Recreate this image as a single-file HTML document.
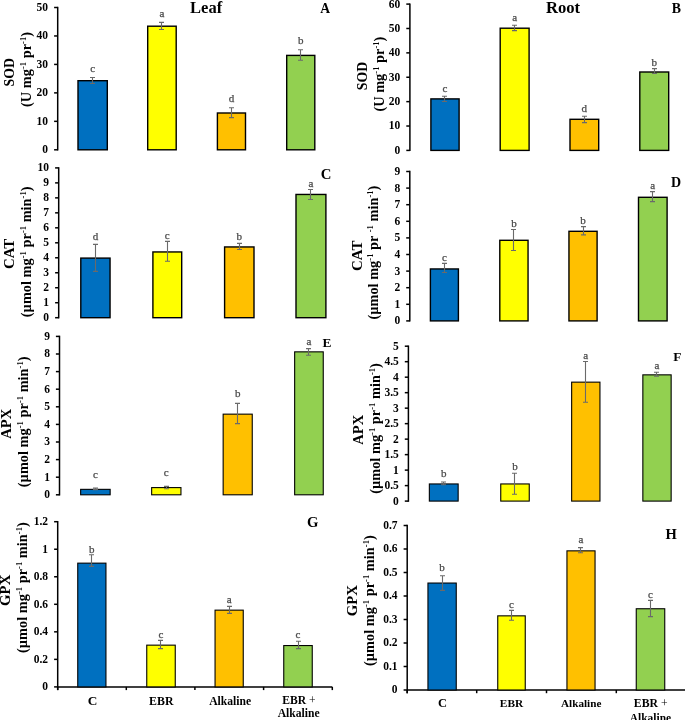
<!DOCTYPE html>
<html><head><meta charset="utf-8"><title>Figure</title><style>
html,body{margin:0;padding:0;background:#fff;}
body{width:685px;height:720px;overflow:hidden;}
svg{display:block;will-change:transform;}
text{font-family:"Liberation Serif",serif;}
.ax{stroke:#000;stroke-width:1.5;fill:none;}
.bar{stroke:#000;}
.err{stroke:#6a6a6a;stroke-width:1.1;fill:none;}
.tick{font-size:11.5px;font-weight:bold;text-anchor:end;fill:#000;}
.let{font-size:11px;text-anchor:middle;fill:#4a4a4a;stroke:#4a4a4a;stroke-width:0.25px;}
.b{font-weight:bold;}
.m{text-anchor:middle;}
.sup{font-size:8.6px;}
</style></head><body><svg width="685" height="720" viewBox="0 0 685 720">
<rect width="100%" height="100%" fill="#fff"/>
<g>
<line x1="57.70" y1="6.80" x2="57.70" y2="150.50" class="ax"/>
<line x1="54.10" y1="149.80" x2="57.70" y2="149.80" class="ax"/>
<text x="48.10" y="153.20" class="tick">0</text>
<line x1="54.10" y1="121.34" x2="57.70" y2="121.34" class="ax"/>
<text x="48.10" y="124.74" class="tick">10</text>
<line x1="54.10" y1="92.88" x2="57.70" y2="92.88" class="ax"/>
<text x="48.10" y="96.28" class="tick">20</text>
<line x1="54.10" y1="64.42" x2="57.70" y2="64.42" class="ax"/>
<text x="48.10" y="67.82" class="tick">30</text>
<line x1="54.10" y1="35.96" x2="57.70" y2="35.96" class="ax"/>
<text x="48.10" y="39.36" class="tick">40</text>
<line x1="54.10" y1="7.50" x2="57.70" y2="7.50" class="ax"/>
<text x="48.10" y="10.90" class="tick">50</text>
<rect x="78.00" y="80.70" width="29.30" height="69.10" fill="#0070C0" class="bar" style="stroke-width:1.4"/>
<path d="M92.50 77.50V83.50M90.00 77.50H95.00M90.00 83.50H95.00" class="err"/>
<text x="92.65" y="72.00" class="let">c</text>
<rect x="147.70" y="26.20" width="28.50" height="123.60" fill="#FFFF00" class="bar" style="stroke-width:1.4"/>
<path d="M161.50 22.40V29.50M159.00 22.40H164.00M159.00 29.50H164.00" class="err"/>
<text x="161.95" y="17.00" class="let">a</text>
<rect x="217.40" y="113.00" width="28.10" height="36.80" fill="#FFC000" class="bar" style="stroke-width:1.4"/>
<path d="M231.50 107.70V117.60M229.00 107.70H234.00M229.00 117.60H234.00" class="err"/>
<text x="231.45" y="102.40" class="let">d</text>
<rect x="286.70" y="55.40" width="28.10" height="94.40" fill="#92D050" class="bar" style="stroke-width:1.4"/>
<path d="M300.50 49.70V60.30M298.00 49.70H303.00M298.00 60.30H303.00" class="err"/>
<text x="300.75" y="44.00" class="let">b</text>
</g>
<g>
<line x1="409.90" y1="3.40" x2="409.90" y2="151.10" class="ax"/>
<line x1="406.30" y1="150.40" x2="409.90" y2="150.40" class="ax"/>
<text x="400.30" y="153.80" class="tick">0</text>
<line x1="406.30" y1="126.02" x2="409.90" y2="126.02" class="ax"/>
<text x="400.30" y="129.42" class="tick">10</text>
<line x1="406.30" y1="101.63" x2="409.90" y2="101.63" class="ax"/>
<text x="400.30" y="105.03" class="tick">20</text>
<line x1="406.30" y1="77.25" x2="409.90" y2="77.25" class="ax"/>
<text x="400.30" y="80.65" class="tick">30</text>
<line x1="406.30" y1="52.87" x2="409.90" y2="52.87" class="ax"/>
<text x="400.30" y="56.27" class="tick">40</text>
<line x1="406.30" y1="28.48" x2="409.90" y2="28.48" class="ax"/>
<text x="400.30" y="31.88" class="tick">50</text>
<line x1="406.30" y1="4.10" x2="409.90" y2="4.10" class="ax"/>
<text x="400.30" y="7.50" class="tick">60</text>
<rect x="430.90" y="98.90" width="28.20" height="51.50" fill="#0070C0" class="bar" style="stroke-width:1.4"/>
<path d="M444.50 96.20V101.50M442.00 96.20H447.00M442.00 101.50H447.00" class="err"/>
<text x="445.00" y="91.80" class="let">c</text>
<rect x="500.20" y="28.20" width="28.90" height="122.20" fill="#FFFF00" class="bar" style="stroke-width:1.4"/>
<path d="M514.50 25.30V30.60M512.00 25.30H517.00M512.00 30.60H517.00" class="err"/>
<text x="514.65" y="20.90" class="let">a</text>
<rect x="570.00" y="119.30" width="28.70" height="31.10" fill="#FFC000" class="bar" style="stroke-width:1.4"/>
<path d="M584.50 116.20V122.60M582.00 116.20H587.00M582.00 122.60H587.00" class="err"/>
<text x="584.35" y="112.00" class="let">d</text>
<rect x="639.80" y="72.00" width="28.90" height="78.40" fill="#92D050" class="bar" style="stroke-width:1.4"/>
<path d="M654.50 68.60V73.50M652.00 68.60H657.00M652.00 73.50H657.00" class="err"/>
<text x="654.25" y="65.50" class="let">b</text>
</g>
<g>
<line x1="58.70" y1="167.20" x2="58.70" y2="318.40" class="ax"/>
<line x1="55.10" y1="317.70" x2="58.70" y2="317.70" class="ax"/>
<text x="49.10" y="321.10" class="tick">0</text>
<line x1="55.10" y1="302.72" x2="58.70" y2="302.72" class="ax"/>
<text x="49.10" y="306.12" class="tick">1</text>
<line x1="55.10" y1="287.74" x2="58.70" y2="287.74" class="ax"/>
<text x="49.10" y="291.14" class="tick">2</text>
<line x1="55.10" y1="272.76" x2="58.70" y2="272.76" class="ax"/>
<text x="49.10" y="276.16" class="tick">3</text>
<line x1="55.10" y1="257.78" x2="58.70" y2="257.78" class="ax"/>
<text x="49.10" y="261.18" class="tick">4</text>
<line x1="55.10" y1="242.80" x2="58.70" y2="242.80" class="ax"/>
<text x="49.10" y="246.20" class="tick">5</text>
<line x1="55.10" y1="227.82" x2="58.70" y2="227.82" class="ax"/>
<text x="49.10" y="231.22" class="tick">6</text>
<line x1="55.10" y1="212.84" x2="58.70" y2="212.84" class="ax"/>
<text x="49.10" y="216.24" class="tick">7</text>
<line x1="55.10" y1="197.86" x2="58.70" y2="197.86" class="ax"/>
<text x="49.10" y="201.26" class="tick">8</text>
<line x1="55.10" y1="182.88" x2="58.70" y2="182.88" class="ax"/>
<text x="49.10" y="186.28" class="tick">9</text>
<line x1="55.10" y1="167.90" x2="58.70" y2="167.90" class="ax"/>
<text x="49.10" y="171.30" class="tick">10</text>
<rect x="80.80" y="258.10" width="29.25" height="59.60" fill="#0070C0" class="bar" style="stroke-width:1.4"/>
<path d="M95.50 244.40V271.40M93.00 244.40H98.00M93.00 271.40H98.00" class="err"/>
<text x="95.42" y="240.00" class="let">d</text>
<rect x="152.90" y="251.95" width="28.80" height="65.75" fill="#FFFF00" class="bar" style="stroke-width:1.4"/>
<path d="M167.50 241.40V261.25M165.00 241.40H170.00M165.00 261.25H170.00" class="err"/>
<text x="167.30" y="238.60" class="let">c</text>
<rect x="224.60" y="246.95" width="29.40" height="70.75" fill="#FFC000" class="bar" style="stroke-width:1.4"/>
<path d="M239.50 243.40V249.50M237.00 243.40H242.00M237.00 249.50H242.00" class="err"/>
<text x="239.30" y="239.70" class="let">b</text>
<rect x="296.00" y="194.45" width="29.90" height="123.25" fill="#92D050" class="bar" style="stroke-width:1.4"/>
<path d="M310.50 189.50V199.50M308.00 189.50H313.00M308.00 199.50H313.00" class="err"/>
<text x="310.95" y="187.20" class="let">a</text>
</g>
<g>
<line x1="409.80" y1="170.80" x2="409.80" y2="321.60" class="ax"/>
<line x1="406.20" y1="320.90" x2="409.80" y2="320.90" class="ax"/>
<text x="400.20" y="324.30" class="tick">0</text>
<line x1="406.20" y1="304.30" x2="409.80" y2="304.30" class="ax"/>
<text x="400.20" y="307.70" class="tick">1</text>
<line x1="406.20" y1="287.70" x2="409.80" y2="287.70" class="ax"/>
<text x="400.20" y="291.10" class="tick">2</text>
<line x1="406.20" y1="271.10" x2="409.80" y2="271.10" class="ax"/>
<text x="400.20" y="274.50" class="tick">3</text>
<line x1="406.20" y1="254.50" x2="409.80" y2="254.50" class="ax"/>
<text x="400.20" y="257.90" class="tick">4</text>
<line x1="406.20" y1="237.90" x2="409.80" y2="237.90" class="ax"/>
<text x="400.20" y="241.30" class="tick">5</text>
<line x1="406.20" y1="221.30" x2="409.80" y2="221.30" class="ax"/>
<text x="400.20" y="224.70" class="tick">6</text>
<line x1="406.20" y1="204.70" x2="409.80" y2="204.70" class="ax"/>
<text x="400.20" y="208.10" class="tick">7</text>
<line x1="406.20" y1="188.10" x2="409.80" y2="188.10" class="ax"/>
<text x="400.20" y="191.50" class="tick">8</text>
<line x1="406.20" y1="171.50" x2="409.80" y2="171.50" class="ax"/>
<text x="400.20" y="174.90" class="tick">9</text>
<rect x="430.40" y="268.95" width="28.00" height="51.95" fill="#0070C0" class="bar" style="stroke-width:1.4"/>
<path d="M444.50 263.40V272.50M442.00 263.40H447.00M442.00 272.50H447.00" class="err"/>
<text x="444.40" y="260.60" class="let">c</text>
<rect x="499.80" y="240.30" width="28.25" height="80.60" fill="#FFFF00" class="bar" style="stroke-width:1.4"/>
<path d="M513.50 229.50V250.50M511.00 229.50H516.00M511.00 250.50H516.00" class="err"/>
<text x="513.92" y="226.60" class="let">b</text>
<rect x="568.95" y="231.30" width="28.15" height="89.60" fill="#FFC000" class="bar" style="stroke-width:1.4"/>
<path d="M583.50 226.60V234.90M581.00 226.60H586.00M581.00 234.90H586.00" class="err"/>
<text x="583.02" y="223.60" class="let">b</text>
<rect x="638.50" y="197.30" width="28.60" height="123.60" fill="#92D050" class="bar" style="stroke-width:1.4"/>
<path d="M652.50 191.60V201.60M650.00 191.60H655.00M650.00 201.60H655.00" class="err"/>
<text x="652.80" y="188.75" class="let">a</text>
</g>
<g>
<line x1="59.50" y1="335.70" x2="59.50" y2="495.50" class="ax"/>
<line x1="55.90" y1="494.80" x2="59.50" y2="494.80" class="ax"/>
<text x="49.90" y="498.20" class="tick">0</text>
<line x1="55.90" y1="477.20" x2="59.50" y2="477.20" class="ax"/>
<text x="49.90" y="480.60" class="tick">1</text>
<line x1="55.90" y1="459.60" x2="59.50" y2="459.60" class="ax"/>
<text x="49.90" y="463.00" class="tick">2</text>
<line x1="55.90" y1="442.00" x2="59.50" y2="442.00" class="ax"/>
<text x="49.90" y="445.40" class="tick">3</text>
<line x1="55.90" y1="424.40" x2="59.50" y2="424.40" class="ax"/>
<text x="49.90" y="427.80" class="tick">4</text>
<line x1="55.90" y1="406.80" x2="59.50" y2="406.80" class="ax"/>
<text x="49.90" y="410.20" class="tick">5</text>
<line x1="55.90" y1="389.20" x2="59.50" y2="389.20" class="ax"/>
<text x="49.90" y="392.60" class="tick">6</text>
<line x1="55.90" y1="371.60" x2="59.50" y2="371.60" class="ax"/>
<text x="49.90" y="375.00" class="tick">7</text>
<line x1="55.90" y1="354.00" x2="59.50" y2="354.00" class="ax"/>
<text x="49.90" y="357.40" class="tick">8</text>
<line x1="55.90" y1="336.40" x2="59.50" y2="336.40" class="ax"/>
<text x="49.90" y="339.80" class="tick">9</text>
<rect x="80.65" y="489.35" width="29.50" height="5.45" fill="#0070C0" class="bar" style="stroke-width:1.1"/>
<path d="M95.50 488.10V489.60M93.00 488.10H98.00M93.00 489.60H98.00" class="err"/>
<text x="95.40" y="477.90" class="let">c</text>
<rect x="151.65" y="487.60" width="29.30" height="7.20" fill="#FFFF00" class="bar" style="stroke-width:1.1"/>
<path d="M166.50 486.40V488.70M164.00 486.40H169.00M164.00 488.70H169.00" class="err"/>
<text x="166.30" y="475.80" class="let">c</text>
<rect x="223.15" y="414.15" width="29.10" height="80.65" fill="#FFC000" class="bar" style="stroke-width:1.1"/>
<path d="M237.50 403.40V423.60M235.00 403.40H240.00M235.00 423.60H240.00" class="err"/>
<text x="237.70" y="396.80" class="let">b</text>
<rect x="294.65" y="351.85" width="28.60" height="142.95" fill="#92D050" class="bar" style="stroke-width:1.1"/>
<path d="M308.50 348.60V355.20M306.00 348.60H311.00M306.00 355.20H311.00" class="err"/>
<text x="308.95" y="345.00" class="let">a</text>
</g>
<g>
<line x1="408.40" y1="345.50" x2="408.40" y2="501.80" class="ax"/>
<line x1="404.80" y1="501.10" x2="408.40" y2="501.10" class="ax"/>
<text x="398.80" y="504.50" class="tick">0</text>
<line x1="404.80" y1="485.61" x2="408.40" y2="485.61" class="ax"/>
<text x="398.80" y="489.01" class="tick">0.5</text>
<line x1="404.80" y1="470.12" x2="408.40" y2="470.12" class="ax"/>
<text x="398.80" y="473.52" class="tick">1</text>
<line x1="404.80" y1="454.63" x2="408.40" y2="454.63" class="ax"/>
<text x="398.80" y="458.03" class="tick">1.5</text>
<line x1="404.80" y1="439.14" x2="408.40" y2="439.14" class="ax"/>
<text x="398.80" y="442.54" class="tick">2</text>
<line x1="404.80" y1="423.65" x2="408.40" y2="423.65" class="ax"/>
<text x="398.80" y="427.05" class="tick">2.5</text>
<line x1="404.80" y1="408.16" x2="408.40" y2="408.16" class="ax"/>
<text x="398.80" y="411.56" class="tick">3</text>
<line x1="404.80" y1="392.67" x2="408.40" y2="392.67" class="ax"/>
<text x="398.80" y="396.07" class="tick">3.5</text>
<line x1="404.80" y1="377.18" x2="408.40" y2="377.18" class="ax"/>
<text x="398.80" y="380.58" class="tick">4</text>
<line x1="404.80" y1="361.69" x2="408.40" y2="361.69" class="ax"/>
<text x="398.80" y="365.09" class="tick">4.5</text>
<line x1="404.80" y1="346.20" x2="408.40" y2="346.20" class="ax"/>
<text x="398.80" y="349.60" class="tick">5</text>
<rect x="429.35" y="483.95" width="28.80" height="17.15" fill="#0070C0" class="bar" style="stroke-width:1.1"/>
<path d="M443.50 482.00V484.80M441.00 482.00H446.00M441.00 484.80H446.00" class="err"/>
<text x="443.75" y="476.60" class="let">b</text>
<rect x="500.75" y="483.95" width="28.50" height="17.15" fill="#FFFF00" class="bar" style="stroke-width:1.1"/>
<path d="M514.50 473.30V494.30M512.00 473.30H517.00M512.00 494.30H517.00" class="err"/>
<text x="515.00" y="469.90" class="let">b</text>
<rect x="571.65" y="382.15" width="28.30" height="118.95" fill="#FFC000" class="bar" style="stroke-width:1.1"/>
<path d="M585.50 361.50V402.30M583.00 361.50H588.00M583.00 402.30H588.00" class="err"/>
<text x="585.80" y="359.00" class="let">a</text>
<rect x="642.85" y="374.85" width="28.30" height="126.25" fill="#92D050" class="bar" style="stroke-width:1.1"/>
<path d="M656.50 372.30V376.30M654.00 372.30H659.00M654.00 376.30H659.00" class="err"/>
<text x="657.00" y="368.70" class="let">a</text>
</g>
<g>
<line x1="57.70" y1="521.00" x2="57.70" y2="690.10" class="ax"/>
<line x1="54.10" y1="686.90" x2="57.70" y2="686.90" class="ax"/>
<text x="48.10" y="690.30" class="tick">0</text>
<line x1="54.10" y1="659.37" x2="57.70" y2="659.37" class="ax"/>
<text x="48.10" y="662.77" class="tick">0.2</text>
<line x1="54.10" y1="631.83" x2="57.70" y2="631.83" class="ax"/>
<text x="48.10" y="635.23" class="tick">0.4</text>
<line x1="54.10" y1="604.30" x2="57.70" y2="604.30" class="ax"/>
<text x="48.10" y="607.70" class="tick">0.6</text>
<line x1="54.10" y1="576.77" x2="57.70" y2="576.77" class="ax"/>
<text x="48.10" y="580.17" class="tick">0.8</text>
<line x1="54.10" y1="549.23" x2="57.70" y2="549.23" class="ax"/>
<text x="48.10" y="552.63" class="tick">1</text>
<line x1="54.10" y1="521.70" x2="57.70" y2="521.70" class="ax"/>
<text x="48.10" y="525.10" class="tick">1.2</text>
<line x1="57.70" y1="686.90" x2="332.30" y2="686.90" class="ax"/>
<line x1="57.70" y1="686.90" x2="57.70" y2="690.10" class="ax"/>
<line x1="126.30" y1="686.90" x2="126.30" y2="690.10" class="ax"/>
<line x1="194.90" y1="686.90" x2="194.90" y2="690.10" class="ax"/>
<line x1="263.60" y1="686.90" x2="263.60" y2="690.10" class="ax"/>
<line x1="332.30" y1="686.90" x2="332.30" y2="690.10" class="ax"/>
<rect x="77.75" y="563.15" width="28.20" height="123.75" fill="#0070C0" class="bar" style="stroke-width:1.1"/>
<path d="M91.50 554.70V566.40M89.00 554.70H94.00M89.00 566.40H94.00" class="err"/>
<text x="91.85" y="552.60" class="let">b</text>
<rect x="146.75" y="645.15" width="28.50" height="41.75" fill="#FFFF00" class="bar" style="stroke-width:1.1"/>
<path d="M160.50 640.40V648.60M158.00 640.40H163.00M158.00 648.60H163.00" class="err"/>
<text x="161.00" y="637.70" class="let">c</text>
<rect x="215.05" y="610.15" width="28.20" height="76.75" fill="#FFC000" class="bar" style="stroke-width:1.1"/>
<path d="M229.50 606.40V613.40M227.00 606.40H232.00M227.00 613.40H232.00" class="err"/>
<text x="229.15" y="602.70" class="let">a</text>
<rect x="283.75" y="645.55" width="28.50" height="41.35" fill="#92D050" class="bar" style="stroke-width:1.1"/>
<path d="M298.50 641.20V648.60M296.00 641.20H301.00M296.00 648.60H301.00" class="err"/>
<text x="298.00" y="637.70" class="let">c</text>
</g>
<g>
<line x1="407.20" y1="524.80" x2="407.20" y2="693.20" class="ax"/>
<line x1="403.60" y1="690.00" x2="407.20" y2="690.00" class="ax"/>
<text x="397.60" y="693.40" class="tick">0</text>
<line x1="403.60" y1="666.50" x2="407.20" y2="666.50" class="ax"/>
<text x="397.60" y="669.90" class="tick">0.1</text>
<line x1="403.60" y1="643.00" x2="407.20" y2="643.00" class="ax"/>
<text x="397.60" y="646.40" class="tick">0.2</text>
<line x1="403.60" y1="619.50" x2="407.20" y2="619.50" class="ax"/>
<text x="397.60" y="622.90" class="tick">0.3</text>
<line x1="403.60" y1="596.00" x2="407.20" y2="596.00" class="ax"/>
<text x="397.60" y="599.40" class="tick">0.4</text>
<line x1="403.60" y1="572.50" x2="407.20" y2="572.50" class="ax"/>
<text x="397.60" y="575.90" class="tick">0.5</text>
<line x1="403.60" y1="549.00" x2="407.20" y2="549.00" class="ax"/>
<text x="397.60" y="552.40" class="tick">0.6</text>
<line x1="403.60" y1="525.50" x2="407.20" y2="525.50" class="ax"/>
<text x="397.60" y="528.90" class="tick">0.7</text>
<line x1="407.20" y1="690.00" x2="686.00" y2="690.00" class="ax"/>
<line x1="407.20" y1="690.00" x2="407.20" y2="693.20" class="ax"/>
<line x1="476.70" y1="690.00" x2="476.70" y2="693.20" class="ax"/>
<line x1="546.50" y1="690.00" x2="546.50" y2="693.20" class="ax"/>
<line x1="616.30" y1="690.00" x2="616.30" y2="693.20" class="ax"/>
<line x1="686.00" y1="690.00" x2="686.00" y2="693.20" class="ax"/>
<rect x="427.95" y="583.05" width="28.30" height="106.95" fill="#0070C0" class="bar" style="stroke-width:1.1"/>
<path d="M442.50 575.70V590.40M440.00 575.70H445.00M440.00 590.40H445.00" class="err"/>
<text x="442.10" y="570.80" class="let">b</text>
<rect x="497.75" y="615.85" width="27.50" height="74.15" fill="#FFFF00" class="bar" style="stroke-width:1.1"/>
<path d="M511.50 610.40V620.30M509.00 610.40H514.00M509.00 620.30H514.00" class="err"/>
<text x="511.50" y="607.80" class="let">c</text>
<rect x="566.95" y="550.85" width="28.10" height="139.15" fill="#FFC000" class="bar" style="stroke-width:1.1"/>
<path d="M580.50 547.60V552.70M578.00 547.60H583.00M578.00 552.70H583.00" class="err"/>
<text x="581.00" y="542.80" class="let">a</text>
<rect x="636.25" y="608.75" width="28.50" height="81.25" fill="#92D050" class="bar" style="stroke-width:1.1"/>
<path d="M650.50 600.40V616.60M648.00 600.40H653.00M648.00 616.60H653.00" class="err"/>
<text x="650.50" y="598.10" class="let">c</text>
</g>
<text id="A1" transform="translate(14.22 72.30) rotate(-90)" class="b m" style="font-size:13.85px">SOD</text>
<text id="A2" transform="translate(30.60 69.50) rotate(-90)" class="b m" style="font-size:14.37px">(U mg<tspan class="sup" dy="-5">-1</tspan><tspan dy="5"> pr</tspan><tspan class="sup" dy="-5">-1</tspan><tspan dy="5">)</tspan></text>
<text id="B1" transform="translate(367.20 76.00) rotate(-90)" class="b m" style="font-size:13.85px">SOD</text>
<text id="B2" transform="translate(384.00 74.10) rotate(-90)" class="b m" style="font-size:14.37px">(U mg<tspan class="sup" dy="-5">-1</tspan><tspan dy="5"> pr</tspan><tspan class="sup" dy="-5">-1</tspan><tspan dy="5">)</tspan></text>
<text id="C1" transform="translate(13.90 253.88) rotate(-90)" class="b m" style="font-size:14.9px">CAT</text>
<text id="C2" transform="translate(31.20 251.80) rotate(-90)" class="b m" style="font-size:14.37px">(µmol mg<tspan class="sup" dy="-5">-1</tspan><tspan dy="5"> pr</tspan><tspan class="sup" dy="-5">-1</tspan><tspan dy="5"> min</tspan><tspan class="sup" dy="-5">-1</tspan><tspan dy="5">)</tspan></text>
<text id="D1" transform="translate(362.40 255.80) rotate(-90)" class="b m" style="font-size:14.9px">CAT</text>
<text id="D2" transform="translate(378.20 252.60) rotate(-90)" class="b m" style="font-size:14.37px">(µmol mg<tspan class="sup" dy="-5">-1</tspan><tspan dy="5"> pr </tspan><tspan class="sup" dy="-5">-1</tspan><tspan dy="5"> min</tspan><tspan class="sup" dy="-5">-1</tspan><tspan dy="5">)</tspan></text>
<text id="E1" transform="translate(11.40 423.80) rotate(-90)" class="b m" style="font-size:14.6px">APX</text>
<text id="E2" transform="translate(27.80 421.80) rotate(-90)" class="b m" style="font-size:14.37px">(µmol mg<tspan class="sup" dy="-5">-1</tspan><tspan dy="5"> pr</tspan><tspan class="sup" dy="-5">-1</tspan><tspan dy="5"> min</tspan><tspan class="sup" dy="-5">-1</tspan><tspan dy="5">)</tspan></text>
<text id="F1" transform="translate(362.80 429.80) rotate(-90)" class="b m" style="font-size:14.6px">APX</text>
<text id="F2" transform="translate(380.40 428.50) rotate(-90)" class="b m" style="font-size:14.37px">(µmol mg<tspan class="sup" dy="-5">-1</tspan><tspan dy="5"> pr</tspan><tspan class="sup" dy="-5">-1</tspan><tspan dy="5"> min</tspan><tspan class="sup" dy="-5">-1</tspan><tspan dy="5">)</tspan></text>
<text id="G1" transform="translate(9.70 590.30) rotate(-90)" class="b m" style="font-size:14.8px">GPX</text>
<text id="G2" transform="translate(26.80 587.60) rotate(-90)" class="b m" style="font-size:14.37px">(µmol mg<tspan class="sup" dy="-5">-1</tspan><tspan dy="5"> pr</tspan><tspan class="sup" dy="-5">-1</tspan><tspan dy="5"> min</tspan><tspan class="sup" dy="-5">-1</tspan><tspan dy="5">)</tspan></text>
<text id="H1" transform="translate(356.50 600.60) rotate(-90)" class="b m" style="font-size:14.8px">GPX</text>
<text id="H2" transform="translate(374.30 600.60) rotate(-90)" class="b m" style="font-size:14.37px">(µmol mg<tspan class="sup" dy="-5">-1</tspan><tspan dy="5"> pr</tspan><tspan class="sup" dy="-5">-1</tspan><tspan dy="5"> min</tspan><tspan class="sup" dy="-5">-1</tspan><tspan dy="5">)</tspan></text>
<text id="pA" x="320.20" y="13.10" class="b" style="font-size:13.58px">A</text>
<text id="pB" x="671.80" y="12.60" class="b" style="font-size:13.84px">B</text>
<text id="pC" x="320.80" y="178.90" class="b" style="font-size:14.78px">C</text>
<text id="pD" x="671.00" y="186.60" class="b" style="font-size:14px">D</text>
<text id="pE" x="322.50" y="347.30" class="b" style="font-size:13.38px">E</text>
<text id="pF" x="673.30" y="360.90" class="b" style="font-size:13.3px">F</text>
<text id="pG" x="306.90" y="527.10" class="b" style="font-size:14.7px">G</text>
<text id="pH" x="665.60" y="538.60" class="b" style="font-size:14.56px">H</text>
<text id="tL" x="190.10" y="12.50" class="b" style="font-size:16.5px">Leaf</text>
<text id="tR" x="546.00" y="12.50" class="b" style="font-size:16.61px">Root</text>
<text id="x0" x="92.60" y="704.60" class="b m" style="font-size:13.31px">C</text>
<text id="x1" x="161.30" y="704.60" class="b m" style="font-size:11.85px">EBR</text>
<text id="x2" x="230.20" y="705.10" class="b m" style="font-size:11.61px">Alkaline</text>
<text id="x3" x="298.90" y="704.40" class="b m" style="font-size:11.61px">EBR <tspan style="font-weight:normal">+</tspan></text>
<text id="x4" x="298.70" y="717.00" class="b m" style="font-size:11.61px">Alkaline</text>
<text id="x5" x="442.40" y="707.30" class="b m" style="font-size:12.49px">C</text>
<text id="x6" x="511.50" y="706.80" class="b m" style="font-size:11.36px">EBR</text>
<text id="x7" x="581.20" y="706.70" class="b m" style="font-size:11.17px">Alkaline</text>
<text id="x8" x="650.70" y="706.80" class="b m" style="font-size:11.75px">EBR <tspan style="font-weight:normal">+</tspan></text>
<text id="x9" x="650.40" y="721.60" class="b m" style="font-size:11.5px">Alkaline</text>
</svg></body></html>
